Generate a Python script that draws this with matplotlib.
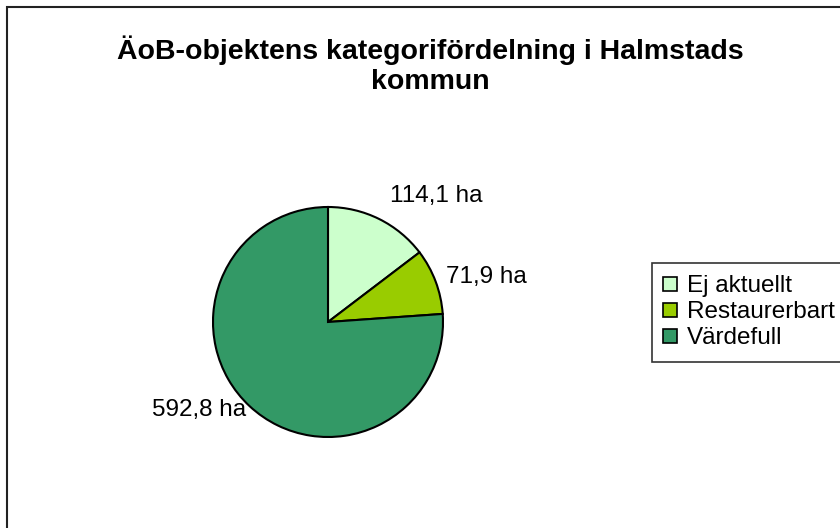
import numpy as np
import matplotlib.pyplot as plt
from matplotlib.patches import Rectangle
from matplotlib.lines import Line2D

plt.rcParams['font.family'] = ['Liberation Sans', 'DejaVu Sans']

# data
categories = ["Ej aktuellt", "Restaurerbart", "Värdefull"]
values = [114.1, 71.9, 592.8]
value_labels = ["114,1 ha", "71,9 ha", "592,8 ha"]
colors = ["#CCFFCC", "#99CC00", "#339966"]
label_dist = [1.22, 1.10, 1.05]  # avstånd för etiketterna

W, H = 840, 528
fig = plt.figure(figsize=(W / 100, H / 100), dpi=100)

# ram runt diagrammet (höger/nedre kant utanför bilden)
fig.patches.append(Rectangle((7 / W, -0.1), 2, 1.1 - 7 / H, transform=fig.transFigure,
                             fill=False, ec="#222222", lw=1.5))

# cirkeln: centrum (328, 322) px, radie 115 px
cx, cy, r = 328, 322, 115
ax = fig.add_axes([(cx - r) / W, (H - cy - r) / H, 2 * r / W, 2 * r / H])
wedges, texts = ax.pie(values, colors=colors, startangle=90, counterclock=False,
                       labels=value_labels, labeldistance=1.1,
                       wedgeprops=dict(edgecolor="black", linewidth=1.5),
                       textprops=dict(fontsize=17.5))
for w, t, d in zip(wedges, texts, label_dist):
    ang = np.deg2rad((w.theta1 + w.theta2) / 2)
    x, y = d * np.cos(ang), d * np.sin(ang)
    t.set_position((x, y))
    t.set_ha("left" if x > 0 else "right")
ax.set_xlim(-1, 1)
ax.set_ylim(-1, 1)
ax.set_aspect("equal")
ax.axis("off")

fig.text(430 / W, 1 - 65 / H, "ÄoB-objektens kategorifördelning i Halmstads\nkommun",
         ha="center", va="center", fontsize=20.5, fontweight="bold", linespacing=1.2)

handles = [Line2D([], [], marker="s", linestyle="none", markersize=9.5,
                  markerfacecolor=c, markeredgecolor="black", markeredgewidth=1.2)
           for c in colors]
leg = fig.legend(handles, categories, loc="upper left",
                 bbox_to_anchor=(652 / W, 1 - 263 / H), fontsize=17.5,
                 frameon=True, fancybox=False, shadow=False, edgecolor="black",
                 handlelength=0.5, handletextpad=0.45, labelspacing=0.17,
                 borderpad=0.5, borderaxespad=0)
leg.get_frame().set_linewidth(1.2)

fig.savefig("out.png", dpi=100)
